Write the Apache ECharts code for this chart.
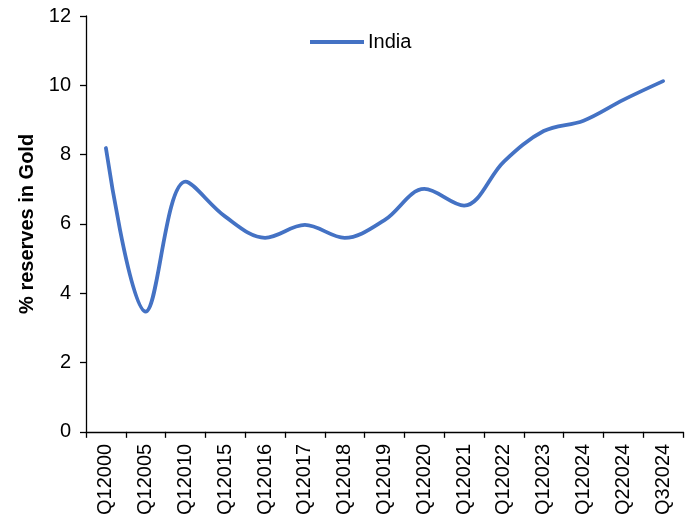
<!DOCTYPE html>
<html>
<head>
<meta charset="utf-8">
<script src="https://cdn.jsdelivr.net/npm/echarts@6/dist/echarts.min.js"></script>
<style>
  html, body { margin: 0; padding: 0; background: #ffffff; }
  #chart { width: 696px; height: 518px; }
</style>
</head>
<body>
<div id="chart"></div>
<script>
// Quarterly share of India's reserves held in gold (%)
const quarters = ['Q12000', 'Q12005', 'Q12010', 'Q12015', 'Q12016', 'Q12017', 'Q12018',
  'Q12019', 'Q12020', 'Q12021', 'Q12022', 'Q12023', 'Q12024', 'Q22024', 'Q32024'];
const indiaGoldShare = [8.19, 3.47, 7.22, 6.21, 5.60, 5.97, 5.60,
  6.11, 7.01, 6.53, 7.80, 8.68, 8.98, 9.58, 10.12];
const yTicks = { min: 0, max: 12, step: 2 };

const font = '"Liberation Sans", Arial, sans-serif';
const chart = echarts.init(document.getElementById('chart'), null, { renderer: 'canvas' });

chart.setOption({
  animation: false,
  backgroundColor: '#ffffff',
  grid: { left: 86, right: 13, top: 16, bottom: 86, containLabel: false },
  legend: {
    left: 305,
    top: 27,
    itemWidth: 54,
    itemHeight: 4,
    itemGap: 4,
    icon: 'path://M0,0 L54,0 L54,4 L0,4 Z',
    textStyle: { fontFamily: font, fontSize: 20, color: '#000000', padding: [0, 0, 0, -1] },
    data: ['India']
  },
  xAxis: {
    type: 'category',
    data: quarters,
    boundaryGap: true,
    axisLine: { lineStyle: { color: '#000000', width: 1.3 } },
    axisTick: { show: true, alignWithLabel: false, length: 6, lineStyle: { color: '#000000', width: 1.3 } },
    axisLabel: {
      rotate: 90,
      margin: 12,
      interval: 0,
      fontFamily: font,
      fontSize: 20,
      color: '#000000'
    },
    splitLine: { show: false }
  },
  yAxis: {
    type: 'value',
    min: yTicks.min,
    max: yTicks.max,
    interval: yTicks.step,
    name: '% reserves in Gold',
    nameLocation: 'middle',
    nameGap: 47,
    nameTextStyle: { fontFamily: font, fontSize: 20, fontWeight: 'bold', color: '#000000' },
    axisLine: { show: true, lineStyle: { color: '#000000', width: 1.3 } },
    axisTick: { show: true, length: 6, lineStyle: { color: '#000000', width: 1.3 } },
    axisLabel: { fontFamily: font, fontSize: 20, color: '#000000', margin: 15 },
    splitLine: { show: false }
  },
  series: [{
    name: 'India',
    type: 'line',
    data: indiaGoldShare,
    smooth: 0.35,
    showSymbol: false,
    symbol: 'none',
    lineStyle: { color: '#4472C4', width: 3.8, cap: 'round' },
    itemStyle: { color: '#4472C4' }
  }]
});
</script>
</body>
</html>
